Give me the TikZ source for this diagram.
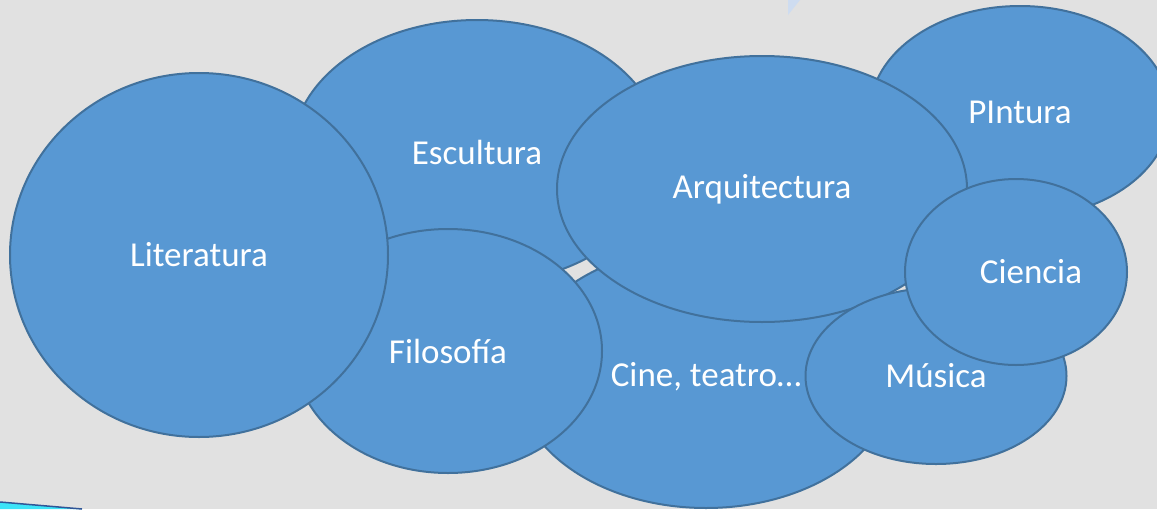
\documentclass[tikz,border=0pt]{standalone}
\usepackage{fontspec}
\setmainfont{Carlito}
\usetikzlibrary{shapes.geometric}
\definecolor{bg}{HTML}{E1E1E1}
\definecolor{bfill}{HTML}{5898D3}
\definecolor{bline}{HTML}{41719C}
\definecolor{paleblue}{HTML}{CEDCF0}
\definecolor{cyanstripe}{HTML}{3CE3F8}
\definecolor{darkstripe}{HTML}{2F5597}
\tikzset{
  bubble/.style={ellipse, fill=bfill, draw=bline, line width=2pt,
    inner sep=0pt, outer sep=0pt, text=white,
    font=\fontsize{35}{42}\selectfont},
  bubbletext/.style={text=white, font=\fontsize{35}{42}\selectfont, inner sep=0pt}
}
\begin{document}
\begin{tikzpicture}[x=1pt,y=-1pt]
\fill[bg] (0,0) rectangle (1157,509);
\useasboundingbox (0,0) rectangle (1157,509);
% background decorations
\fill[paleblue] (788,0) -- (800,0) -- (788,15) -- cycle;
\fill[cyanstripe] (0,502) -- (82,509) -- (0,509) -- cycle;
\draw[darkstripe, line width=1.5pt] (0,502) -- (82,509);
% bubbles, back to front
\node[bubble, minimum width=300pt, minimum height=212pt] (pintura) at (1020,112) {PIntura};
\node[bubble, minimum width=370pt, minimum height=264pt] (escultura) at (477,152) {Escultura};
\node[bubble, minimum width=380pt, minimum height=262pt] (cine) at (706,377) {Cine, teatro…};
\node[bubble, minimum width=308pt, minimum height=244pt] (filosofia) at (448,351) {Filosofía};
\node[bubble, minimum width=378pt, minimum height=364pt] (literatura) at (199,255) {Literatura};
\node[bubble, minimum width=410pt, minimum height=266pt] (arquitectura) at (762,189) {Arquitectura};
\node[bubble, minimum width=261pt, minimum height=176pt] (musica) at (936,376) {Música};
\node[bubble, minimum width=222pt, minimum height=186pt,
  label={[bubbletext, xshift=15pt]center:Ciencia}] (ciencia) at (1016,272) {};
\end{tikzpicture}
\end{document}
